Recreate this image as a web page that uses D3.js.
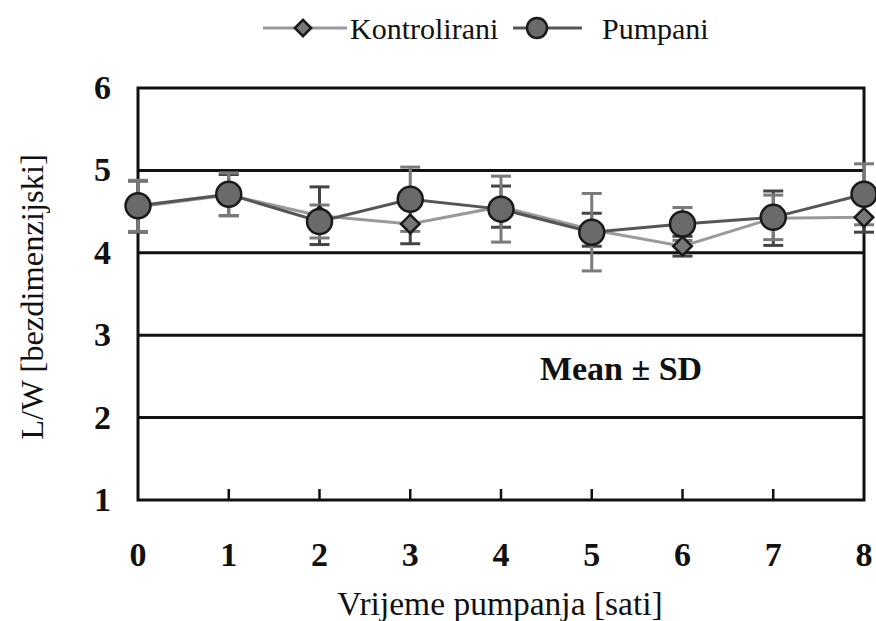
<!DOCTYPE html>
<html><head><meta charset="utf-8">
<script src="https://cdn.jsdelivr.net/npm/d3@7"></script>
<style>body{margin:0;background:#fff}svg{display:block}text{font-family:"Liberation Serif","DejaVu Serif",serif}</style>
</head><body>
<svg id="c" width="876" height="621"></svg>
<script>
const hours = [0,1,2,3,4,5,6,7,8];
const kontMean = [4.56,4.70,4.45,4.35,4.56,4.28,4.08,4.42,4.43];
const kontSD   = [0.31,0.25,0.35,0.24,0.25,0.20,0.12,0.33,0.18];
const pumpMean = [4.57,4.71,4.38,4.65,4.53,4.25,4.35,4.43,4.71];
const pumpSD   = [0.31,0.26,0.20,0.39,0.40,0.47,0.20,0.27,0.37];
const yTicks = [1,2,3,4,5,6];
const seriesNames = ["Kontrolirani","Pumpani"];

const svg = d3.select("#c");
const x = d3.scaleLinear().domain([0,8]).range([138,864]);
const y = d3.scaleLinear().domain([1,6]).range([500,88]);

svg.append("g").selectAll("line").data(yTicks.filter(d=>d>1&&d<6)).join("line")
  .attr("x1",x(0)).attr("x2",x(8)).attr("y1",d=>y(d)).attr("y2",d=>y(d))
  .attr("stroke","#111").attr("stroke-width",3);
svg.append("rect").attr("x",x(0)).attr("y",y(6)).attr("width",x(8)-x(0)).attr("height",y(1)-y(6))
  .attr("fill","none").attr("stroke","#111").attr("stroke-width",3);
svg.append("g").selectAll("line").data(hours.slice(1,-1)).join("line")
  .attr("x1",d=>x(d)).attr("x2",d=>x(d)).attr("y1",y(1)).attr("y2",y(1)-11)
  .attr("stroke","#111").attr("stroke-width",2.5);

svg.append("g").selectAll("text").data(hours).join("text")
  .attr("x",d=>x(d)).attr("y",566).attr("text-anchor","middle")
  .attr("font-weight","bold").attr("font-size",34).attr("fill","#111")
  .text(d=>d);
svg.append("g").selectAll("text").data(yTicks).join("text")
  .attr("x",111).attr("y",d=>y(d)+11).attr("text-anchor","end")
  .attr("font-weight","bold").attr("font-size",34).attr("fill","#111")
  .text(d=>d);

svg.append("text").attr("x",500).attr("y",615).attr("text-anchor","middle")
  .attr("font-size",33.5).attr("fill","#111").text("Vrijeme pumpanja [sati]");
svg.append("text").attr("transform","translate(43,297) rotate(-90)").attr("text-anchor","middle")
  .attr("font-size",32.5).attr("fill","#111").text("L/W [bezdimenzijski]");
svg.append("text").attr("x",621).attr("y",380).attr("text-anchor","middle")
  .attr("font-weight","bold").attr("font-size",34).attr("fill","#111").text("Mean ± SD");

const kData = hours.map((h,i)=>({h,m:kontMean[i],s:kontSD[i]}));
const pData = hours.map((h,i)=>({h,m:pumpMean[i],s:pumpSD[i]}));
const line = d3.line().x(d=>x(d.h)).y(d=>y(d.m));

svg.append("path").datum(kData).attr("d",line).attr("fill","none").attr("stroke","#9a9a9a").attr("stroke-width",3);
svg.append("path").datum(pData).attr("d",line).attr("fill","none").attr("stroke","#555").attr("stroke-width",3);

function errBars(data,color){
  const g = svg.append("g").attr("stroke",color).attr("stroke-width",3);
  g.selectAll(".v").data(data).join("line").attr("x1",d=>x(d.h)).attr("x2",d=>x(d.h))
    .attr("y1",d=>y(d.m+d.s)).attr("y2",d=>y(d.m-d.s));
  g.selectAll(".t").data(data).join("line").attr("x1",d=>x(d.h)-10).attr("x2",d=>x(d.h)+10)
    .attr("y1",d=>y(d.m+d.s)).attr("y2",d=>y(d.m+d.s));
  g.selectAll(".b").data(data).join("line").attr("x1",d=>x(d.h)-10).attr("x2",d=>x(d.h)+10)
    .attr("y1",d=>y(d.m-d.s)).attr("y2",d=>y(d.m-d.s));
}
errBars(kData,"#444");
errBars(pData,"#7a7a7a");

const diamond = d3.symbol().type(d3.symbolDiamond2).size(220);
svg.append("g").selectAll("path").data(kData).join("path")
  .attr("transform",d=>`translate(${x(d.h)},${y(d.m)})`).attr("d",diamond)
  .attr("fill","#777").attr("stroke","#1a1a1a").attr("stroke-width",2.5);
svg.append("g").selectAll("circle").data(pData).join("circle")
  .attr("cx",d=>x(d.h)).attr("cy",d=>y(d.m)).attr("r",12.5)
  .attr("fill","#6a6a6a").attr("stroke","#1a1a1a").attr("stroke-width",2.5);

const lg = svg.append("g");
lg.append("line").attr("x1",263).attr("x2",347).attr("y1",28).attr("y2",28).attr("stroke","#9a9a9a").attr("stroke-width",3);
lg.append("path").attr("transform","translate(303,28)").attr("d",d3.symbol().type(d3.symbolDiamond2).size(170))
  .attr("fill","#777").attr("stroke","#1a1a1a").attr("stroke-width",2.5);
lg.append("text").attr("x",350).attr("y",39).attr("font-size",30).attr("fill","#111").text(seriesNames[0]);
lg.append("line").attr("x1",513).attr("x2",582).attr("y1",28).attr("y2",28).attr("stroke","#555").attr("stroke-width",3);
lg.append("circle").attr("cx",537).attr("cy",28).attr("r",10).attr("fill","#6a6a6a").attr("stroke","#1a1a1a").attr("stroke-width",2.5);
lg.append("text").attr("x",602).attr("y",39).attr("font-size",30).attr("fill","#111").text(seriesNames[1]);
</script>
</body></html>
